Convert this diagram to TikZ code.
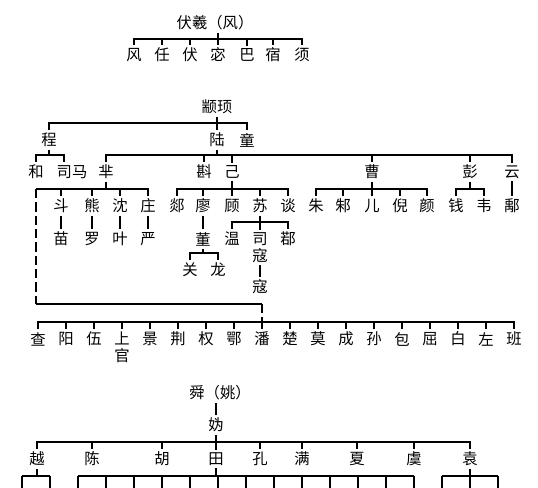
\documentclass[tikz,border=0pt]{standalone}
\usepackage{fontspec}
\newfontfamily\cjk{Noto Sans CJK SC}

\begin{document}
\begin{tikzpicture}[x=0.75pt, y=-0.75pt, line width=2pt,
  every node/.style={inner sep=1.2pt, align=center, font=\cjk\fontsize{11.5}{12.5}\selectfont},
  dashline/.style={dash pattern=on 7pt off 3pt}]
\useasboundingbox (0,0) rectangle (538,487);
\clip (0,0) rectangle (538,487);

% 伏羲
\node (fuxi) at (215,23) {伏羲（风）};
\coordinate (b0) at (218,39);
\node (feng) at (134,55) {风};
\node (ren) at (162,55) {任};
\node (fu) at (190,55) {伏};
\node (mi) at (218,55) {宓};
\node (ba) at (247,55) {巴};
\node (su) at (273,55) {宿};
\node (xu) at (302,55) {须};
\draw (fuxi.south -| b0) -- (b0);
\draw (feng.north) |- (b0) -| (xu.north);
\foreach \n in {ren,fu,mi,ba,su} \draw (\n.north) -- (\n.north |- b0);

% 颛顼
\node (zhuanxu) at (217,107) {颛顼};
\coordinate (b1) at (217,123);
\node (cheng) at (49,140) {程};
\node (lu) at (217,140) {陆};
\node (tong) at (247,140) {童};
\draw (zhuanxu) -- (b1);
\draw (cheng.north) |- (b1) -| (tong.north);
\draw (lu.north) -- (lu.north |- b1);

% 程
\coordinate (b2) at (49,155);
\node (he) at (36,172) {和};
\node (sima) at (72,172) {司马};
\draw (cheng) -- (b2);
\draw (he.north) |- (b2) -| ([xshift=-6pt]sima.north);

% 陆
\coordinate (b3) at (217,155);
\node (mi2) at (106,172) {芈};
\node (zhen) at (204,172) {斟};
\node (ji) at (232,172) {己};
\node (cao) at (372,172) {曹};
\node (peng) at (470,172) {彭};
\node (yun) at (512,172) {云};
\draw (lu) -- (b3);
\draw (mi2.north) |- (b3) -| (yun.north);
\foreach \n in {zhen,ji,cao,peng} \draw (\n.north) -- (\n.north |- b3);

% 芈
\coordinate (b4) at (106,189);
\coordinate (dl) at (36,189);
\coordinate (dm) at (36,304);
\node (dou) at (61,206) {斗};
\node (xiong) at (92,206) {熊};
\node (shen) at (120,206) {沈};
\node (zhuang) at (148,206) {庄};
\node (miao) at (61,239) {苗};
\node (luo) at (92,239) {罗};
\node (ye) at (120,239) {叶};
\node (yan) at (148,239) {严};
\draw (mi2) -- (b4);
\draw (dl) -- (dl -| zhuang) -- (zhuang.north);
\foreach \n in {dou,xiong,shen} \draw (\n.north) -- (\n.north |- b4);
\draw (dou) -- (miao);
\draw (xiong) -- (luo);
\draw (shen) -- (ye);
\draw (zhuang) -- (yan);

% 己
\coordinate (b5) at (232,189);
\node (tan) at (177,206) {郯};
\node (liao) at (203,206) {廖};
\node (gu) at (232,206) {顾};
\node (su2) at (260,206) {苏};
\node (tan2) at (288,206) {谈};
\draw (ji) -- (b5);
\draw (tan.north) |- (b5) -| (tan2.north);
\foreach \n in {liao,gu,su2} \draw (\n.north) -- (\n.north |- b5);

% 廖
\node (dong) at (203,239) {董};
\coordinate (b6) at (203,253);
\node (guan) at (190,270) {关};
\node (long) at (218,270) {龙};
\draw (liao) -- (dong);
\draw (dong) -- (b6);
\draw (guan.north) |- (b6) -| (long.north);

% 苏
\coordinate (b7) at (260,222);
\node (wen) at (232,239) {温};
\node (sikou) at (260,247.5) {司\\寇};
\node (ruo) at (288,239) {鄀};
\node (kou) at (260,287) {寇};
\draw (su2) -- (b7);
\draw (wen.north) |- (b7) -| (ruo.north);
\draw (sikou.north) -- (sikou.north |- b7);
\draw (sikou) -- (kou);

% 曹
\coordinate (b8) at (372,189);
\node (zhu) at (316,206) {朱};
\node (zhu2) at (343,206) {邾};
\node (er) at (372,206) {儿};
\node (ni) at (400,206) {倪};
\node (yan2) at (427,206) {颜};
\draw (cao) -- (b8);
\draw (zhu.north) |- (b8) -| (yan2.north);
\foreach \n in {zhu2,er,ni} \draw (\n.north) -- (\n.north |- b8);

% 彭, 云
\coordinate (b8p) at (470,189);
\node (qian) at (456,206) {钱};
\node (wei) at (484,206) {韦};
\node (yu) at (512,206) {鄅};
\draw (peng) -- (b8p);
\draw (qian.north) |- (b8p) -| (wei.north);
\draw (yun) -- (yu);

% 芈 descendants
\coordinate (b9) at (262,322);
\node (zha) at (38,339) {查};
\node (yang) at (66,339) {阳};
\node (wu) at (94,339) {伍};
\node (shangguan) at (122,347) {上\\官};
\node (jing) at (150,339) {景};
\node (jing2) at (178,339) {荆};
\node (quan) at (206,339) {权};
\node (e) at (234,339) {鄂};
\node (pan) at (262,339) {潘};
\node (chu) at (290,339) {楚};
\node (mo) at (318,339) {莫};
\node (cheng2) at (346,339) {成};
\node (sun) at (374,339) {孙};
\node (bao) at (402,339) {包};
\node (qu) at (430,339) {屈};
\node (bai) at (458,339) {白};
\node (zuo) at (486,339) {左};
\node (ban) at (514,339) {班};
\draw[dashline] (dl) -- (dm);
\draw (dm) -- (dm -| pan);
\draw[dashline] (dm -| pan) -- (b9);
\draw (zha.north) |- (b9) -| (ban.north);
\foreach \n in {yang,wu,shangguan,jing,jing2,quan,e,pan,chu,mo,cheng2,sun,bao,qu,bai,zuo}
  \draw (\n.north) -- (\n.north |- b9);

% 舜
\node (shun) at (220,393) {舜（姚）};
\node (gui) at (216,425) {妫};
\coordinate (b10) at (216,442);
\node (yue) at (37,459) {越};
\node (chen) at (92,459) {陈};
\node (hu) at (162,459) {胡};
\node (tian) at (216,459) {田};
\node (kong) at (260,459) {孔};
\node (man) at (302,459) {满};
\node (xia) at (357,459) {夏};
\node (yu2) at (414,459) {虞};
\node (yuan) at (470,459) {袁};
\draw (shun.south -| gui) -- (gui);
\draw (gui) -- (b10);
\draw (yue.north) |- (b10) -| (yuan.north);
\foreach \n in {chen,hu,tian,kong,man,xia,yu2} \draw (\n.north) -- (\n.north |- b10);

% 越, 田, 袁 (cut off)
\coordinate (b11) at (37,476);
\coordinate (b12) at (216,476);
\coordinate (b13) at (470,476);
\draw (yue) -- (b11);
\draw (tian) -- (b12);
\draw (yuan) -- (b13);
\foreach \x [count=\i] in {22,50} {
  \coordinate (ya\i) at (\x,495);
  \draw (ya\i) -- (ya\i |- b11);
}
\draw (ya1 |- b11) -- (ya2 |- b11);
\foreach \x [count=\i] in {78,106,...,414} {
  \coordinate (ti\i) at (\x,495);
  \draw (ti\i) -- (ti\i |- b12);
}
\draw (ti1 |- b12) -- (ti13 |- b12);
\foreach \x [count=\i] in {442,470,498} {
  \coordinate (yb\i) at (\x,495);
  \draw (yb\i) -- (yb\i |- b13);
}
\draw (yb1 |- b13) -- (yb3 |- b13);
\end{tikzpicture}
\end{document}
